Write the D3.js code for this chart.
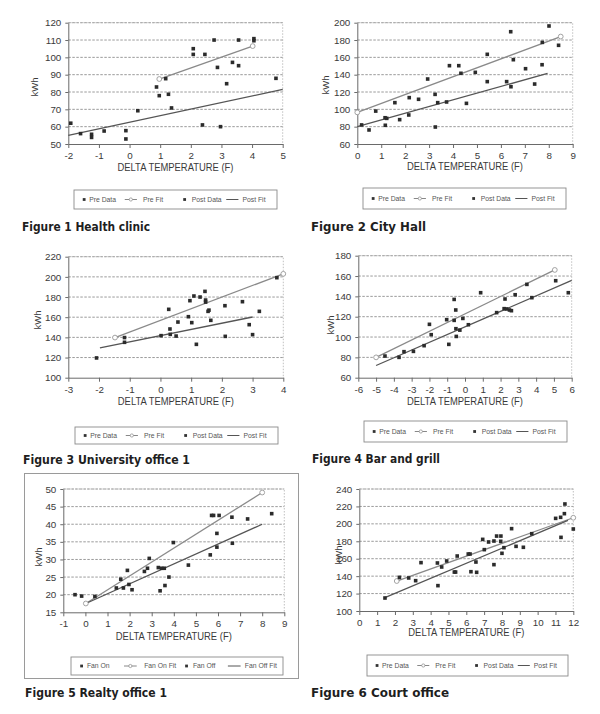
<!DOCTYPE html>
<html><head><meta charset="utf-8">
<script src="https://cdn.jsdelivr.net/npm/d3@7"></script>
<style>body{margin:0;background:#fff}svg{display:block}</style>
</head><body>
<script>
// ---------------- DATA ----------------
const titles = ["Figure 1 Health clinic","Figure 2 City Hall","Figure 3 University office 1","Figure 4 Bar and grill","Figure 5 Realty office 1","Figure 6 Court office"];
const xAxisTitle = "DELTA TEMPERATURE (F)";
const yAxisTitle = "kWh";
const legendStd = ["Pre Data","Pre Fit","Post Data","Post Fit"];
const legendFan = ["Fan On","Fan On Fit","Fan Off","Fan Off Fit"];

const xTicks1 = [-2,-1,0,1,2,3,4,5];       const yTicks1 = [50,60,70,80,90,100,110,120];
const xTicks2 = [0,1,2,3,4,5,6,7,8,9];     const yTicks2 = [60,80,100,120,140,160,180,200];
const xTicks3 = [-3,-2,-1,0,1,2,3,4];      const yTicks3 = [100,120,140,160,180,200,220];
const xTicks4 = [-6,-5,-4,-3,-2,-1,0,1,2,3,4,5,6]; const yTicks4 = [60,80,100,120,140,160,180];
const xTicks5 = [-1,0,1,2,3,4,5,6,7,8,9];  const yTicks5 = [15,20,25,30,35,40,45,50];
const xTicks6 = [0,1,2,3,4,5,6,7,8,9,10,11,12]; const yTicks6 = [100,120,140,160,180,200,220,240];

const p1Pre = [[0.88,82.9],[1.18,87.7],[2.08,105],[2.08,101.7],[2.46,101.7],[2.76,110],[2.87,94.2],[3.36,97.1],[3.56,110],[3.56,95.2],[4.06,110.8],[4.06,109.6],[0.97,77.9],[1.27,78.7],[3.17,84.8]];
const p1Post = [[-1.92,62],[-1.6,56],[-1.24,55.6],[-1.24,53.8],[-0.83,57.5],[-0.12,57.7],[-0.12,52.9],[0.27,69.2],[1.37,70.8],[2.38,61],[2.97,60],[4.78,87.9]];
const p1PreFit = [[0.97,87.5],[4.02,106.5]];
const p1PostFit = [[-2,55],[5,81.5]];

const p2Pre = [[0.77,98],[1.57,107.7],[2.17,113.5],[2.56,111.6],[2.94,135],[3.25,117.3],[3.85,150.4],[4.24,150.4],[4.33,141.6],[4.93,142.7],[5.43,163.5],[6.41,189.6],[6.52,157.3],[7.03,146.9],[7.72,151.5],[7.73,177.3],[8.01,196.2],[8.41,173.9]];
const p2Post = [[0.18,82],[0.49,76.2],[1.16,90.3],[1.23,89.6],[1.17,81.6],[1.77,88.1],[2.15,93.5],[3.26,79.6],[3.36,107.7],[3.73,108.5],[4.56,106.9],[5.43,132],[6.24,132],[6.42,126.1],[7.41,129.2]];
const p2PreFit = [[0,96.5],[8.5,184]];
const p2PostFit = [[0,80],[7.95,141.5]];

const p3Pre = [[0.27,167.8],[0.91,160.5],[0.96,176.4],[1.09,181],[1.29,180],[1.45,185.6],[1.47,177],[1.47,175],[1.55,165.8],[1.58,167],[2.10,171.4],[2.67,175.4],[3.22,165.8],[3.79,199.2],[-1.17,139.8],[0.57,155.2]];
const p3Post = [[-2.08,119.6],[-1.17,135.1],[0.02,141.7],[0.31,148.3],[0.32,143],[0.51,141.3],[1.02,154.6],[1.17,133.1],[1.64,156.9],[2.11,141],[2.89,152.6],[3.0,142.7]];
const p3PreFit = [[-1.48,139.8],[4,203]];
const p3PostFit = [[-1.97,129.6],[3.0,160.2]];

const p4Pre = [[-4.5,81.3],[-2.0,112.5],[-1.9,102.3],[-1.03,117.1],[-0.61,137],[-0.61,116.4],[-0.52,126.6],[-0.12,118.3],[0.88,143.6],[2.25,137.4],[2.82,141.6],[3.48,151.8],[5.1,155.4]];
const p4Post = [[-3.71,80],[-3.43,85.6],[-2.9,85.9],[-2.3,91.5],[-0.91,92.8],[-0.51,108.2],[-0.49,100.6],[-0.29,106.8],[0.19,112.1],[1.78,124],[2.2,127.9],[2.33,127.6],[2.5,126.6],[2.61,125.9],[3.76,138.7],[5.81,143.6]];
const p4PreFit = [[-5,80],[5.05,166]];
const p4PostFit = [[-5,72],[6,155.7]];

const p5On = [[-0.47,20],[-0.17,19.6],[0.43,19.5],[1.6,24.4],[1.9,26.9],[2.67,26.6],[2.81,27.5],[2.89,30.3],[3.98,34.8],[5.71,42.5],[5.8,42.5],[6.05,42.5],[5.95,37.4],[6.63,42],[7.34,41.5],[8.43,43]];
const p5Off = [[1.4,21.9],[1.72,21.9],[1.97,22.9],[2.11,21.4],[3.3,27.7],[3.38,21.1],[3.45,27.5],[3.57,27.5],[3.6,22.6],[3.78,25],[4.66,28.4],[5.65,31.3],[5.95,33.5],[6.65,34.6]];
const p5OnFit = [[0.02,17.5],[8,49]];
const p5OffFit = [[0.02,17.5],[8,40]];

const p6Pre = [[2.25,138.6],[2.77,137.9],[3.46,155.5],[4.38,155.1],[4.62,150.5],[4.9,157.4],[5.49,163.1],[6.11,165.4],[6.21,165.4],[6.92,182.2],[7.25,179.2],[7.7,186],[7.94,186],[7.93,180],[8.54,194.5],[9.67,188.7],[11.01,206.3],[11.29,207.5],[11.53,222.8],[11.5,211.7]];
const p6Post = [[1.44,114.9],[3.16,134.8],[4.41,129.1],[5.33,144.7],[5.4,144.7],[6.26,145.1],[6.54,156.2],[6.58,144.4],[7.01,170.4],[7.55,153.2],[7.55,180.3],[8.0,166.2],[8.11,172.7],[8.79,174.2],[9.2,173.1],[11.31,184.5],[12.0,194.1]];
const p6PreFit = [[2.1,134.4],[12,207]];
const p6PostFit = [[1.4,115],[11.7,204]];

// ---------------- DRAW ----------------
const svg = d3.select("body").append("svg").attr("width",600).attr("height",714);
svg.append("rect").attr("width",600).attr("height",714).attr("fill","#ffffff");

// frame round figure 5
svg.append("rect").attr("x",24.5).attr("y",473.5).attr("width",274).attr("height",205)
  .attr("fill","none").attr("stroke","#9a9a9a").attr("stroke-width",1);

const fmt = d => String(d);

function drawPanel(c){
  const g = svg.append("g");
  const x = d3.scaleLinear().domain(c.xd).range([c.x0,c.x1]);
  const y = d3.scaleLinear().domain(c.yd).range([c.y1,c.y0]);
  g.selectAll(".grid").data(c.yt.slice(1)).join("line")
    .attr("x1",c.x0).attr("x2",c.x1).attr("y1",d=>y(d)).attr("y2",d=>y(d))
    .attr("stroke","#8f8f8f").attr("stroke-width",0.9).attr("stroke-dasharray","2.5,1.5");
  g.append("path").attr("d",`M${c.x0},${c.y0}H${c.x1}V${c.y1}`)
    .attr("fill","none").attr("stroke","#b0b0b0").attr("stroke-width",0.8).attr("stroke-dasharray","1.5,1.5");
  const xa = g.append("g").attr("transform",`translate(0,${c.y1})`)
    .call(d3.axisBottom(x).tickValues(c.xt).tickFormat(fmt).tickSize(4).tickPadding(4).tickSizeOuter(0));
  const ya = g.append("g").attr("transform",`translate(${c.x0},0)`)
    .call(d3.axisLeft(y).tickValues(c.yt).tickFormat(fmt).tickSize(3).tickPadding(4).tickSizeOuter(0));
  [xa,ya].forEach(a=>{
    a.select(".domain").attr("stroke","#6a6a6a").attr("stroke-width",1);
    a.selectAll(".tick line").attr("stroke","#6a6a6a");
    a.selectAll("text").attr("font-family","Liberation Sans, Arial, sans-serif")
      .attr("font-size","9.8px").attr("fill","#3a3a3a");
  });
  const line = d3.line().x(d=>x(d[0])).y(d=>y(d[1]));
  g.append("path").datum(c.fitA).attr("d",line).attr("fill","none")
    .attr("stroke","#8a8a8a").attr("stroke-width",1.3);
  g.append("path").datum(c.fitB).attr("d",line).attr("fill","none")
    .attr("stroke","#555").attr("stroke-width",1.3);
  g.selectAll(".fc").data(c.fitA).join("circle")
    .attr("cx",d=>x(d[0])).attr("cy",d=>y(d[1])).attr("r",2.4)
    .attr("fill","#fff").attr("stroke","#999").attr("stroke-width",0.9);
  const pts = c.ptsA.concat(c.ptsB);
  g.selectAll(".pt").data(pts).join("rect")
    .attr("x",d=>x(d[0])-1.8).attr("y",d=>y(d[1])-1.8).attr("width",3.6).attr("height",3.6)
    .attr("fill","#2b2b2b");
  g.append("text").attr("x",(c.x0+c.x1)/2).attr("y",c.xly).attr("text-anchor","middle")
    .attr("font-family","Liberation Sans, Arial, sans-serif").attr("font-size","10px")
    .attr("fill","#3a3a3a").attr("textLength",116).attr("lengthAdjust","spacingAndGlyphs").text(xAxisTitle);
  g.append("text").attr("transform",`translate(${c.kx},${c.ky}) rotate(-90)`).attr("text-anchor","middle")
    .attr("font-family","Liberation Sans, Arial, sans-serif").attr("font-size","9.5px")
    .attr("fill","#3a3a3a").text(yAxisTitle);
  const [lx,ly,lw,lh] = c.lg;
  g.append("rect").attr("x",lx).attr("y",ly).attr("width",lw).attr("height",lh)
    .attr("fill","none").attr("stroke","#8a8a8a").attr("stroke-width",0.9);
  const cy = ly+lh/2;
  const lt = (t,fx)=>g.append("text").attr("x",lx+fx*lw).attr("y",cy+2.3)
    .attr("font-family","Liberation Sans, Arial, sans-serif").attr("font-size","6.8px")
    .attr("fill","#555").text(t);
  const lm = fx=>g.append("rect").attr("x",lx+fx*lw-1.4).attr("y",cy-1.4).attr("width",2.8).attr("height",2.8).attr("fill","#333");
  const ll = (f0,f1,col,circ)=>{
    g.append("line").attr("x1",lx+f0*lw).attr("x2",lx+f1*lw).attr("y1",cy).attr("y2",cy)
      .attr("stroke",col).attr("stroke-width",1);
    if(circ) g.append("circle").attr("cx",lx+(f0+f1)/2*lw).attr("cy",cy).attr("r",1.6)
      .attr("fill","#fff").attr("stroke","#888").attr("stroke-width",0.7);
  };
  const L = c.labels;
  lm(0.05); lt(L[0],0.075);
  ll(0.25,0.31,"#888",true); lt(L[1],c.fan?0.345:0.34);
  lm(0.545); lt(L[2],c.fan?0.575:0.58);
  ll(c.fan?0.74:0.75,c.fan?0.8:0.81,"#555",false); lt(L[3],c.fan?0.82:0.83);
  g.append("text").attr("x",c.tx).attr("y",c.ty)
    .attr("font-family","DejaVu Sans, Verdana, sans-serif").attr("font-weight","bold")
    .attr("font-size","11.5px").attr("fill","#1e1e1e")
    .attr("textLength",c.tw).attr("lengthAdjust","spacingAndGlyphs").text(c.title);
}

drawPanel({x0:68.3,x1:282.7,y0:22.7,y1:144,xd:[-2,5],yd:[50,120],xt:xTicks1,yt:yTicks1,
  ptsA:p1Pre,ptsB:p1Post,fitA:p1PreFit,fitB:p1PostFit,labels:legendStd,lg:[74,190,203,19],
  xly:171,kx:38,ky:87,tx:22,ty:231,tw:128,title:titles[0]});
drawPanel({x0:357.3,x1:572.7,y0:22.7,y1:144,xd:[0,9],yd:[60,200],xt:xTicks2,yt:yTicks2,
  ptsA:p2Pre,ptsB:p2Post,fitA:p2PreFit,fitB:p2PostFit,labels:legendStd,lg:[363,188,203,21],
  xly:170,kx:329,ky:85,tx:311,ty:231,tw:115,title:titles[1]});
drawPanel({x0:68.3,x1:283.3,y0:256.7,y1:377.7,xd:[-3,4],yd:[100,220],xt:xTicks3,yt:yTicks3,
  ptsA:p3Pre,ptsB:p3Post,fitA:p3PreFit,fitB:p3PostFit,labels:legendStd,lg:[75,427,203,17],
  xly:404.5,kx:41,ky:320,tx:23,ty:464,tw:167,title:titles[2]});
drawPanel({x0:358.3,x1:571.7,y0:255.7,y1:377.7,xd:[-6,6],yd:[60,180],xt:xTicks4,yt:yTicks4,
  ptsA:p4Pre,ptsB:p4Post,fitA:p4PreFit,fitB:p4PostFit,labels:legendStd,lg:[364,421,203,21],
  xly:404.5,kx:334,ky:325,tx:312,ty:463,tw:128,title:titles[3]});
drawPanel({x0:63.3,x1:284.3,y0:489,y1:612.3,xd:[-1,9],yd:[15,50],xt:xTicks5,yt:yTicks5,
  ptsA:p5On,ptsB:p5Off,fitA:p5OnFit,fitB:p5OffFit,labels:legendFan,fan:true,lg:[71,657,212,18],
  xly:639.5,kx:42,ky:557,tx:25,ty:697,tw:142,title:titles[4]});
drawPanel({x0:359.3,x1:573.3,y0:489,y1:611,xd:[0,12],yd:[100,240],xt:xTicks6,yt:yTicks6,
  ptsA:p6Pre,ptsB:p6Post,fitA:p6PreFit,fitB:p6PostFit,labels:legendStd,lg:[367,655,201,21],
  xly:636,kx:342,ky:555,tx:311,ty:697,tw:138,title:titles[5]});
</script>
</body></html>
